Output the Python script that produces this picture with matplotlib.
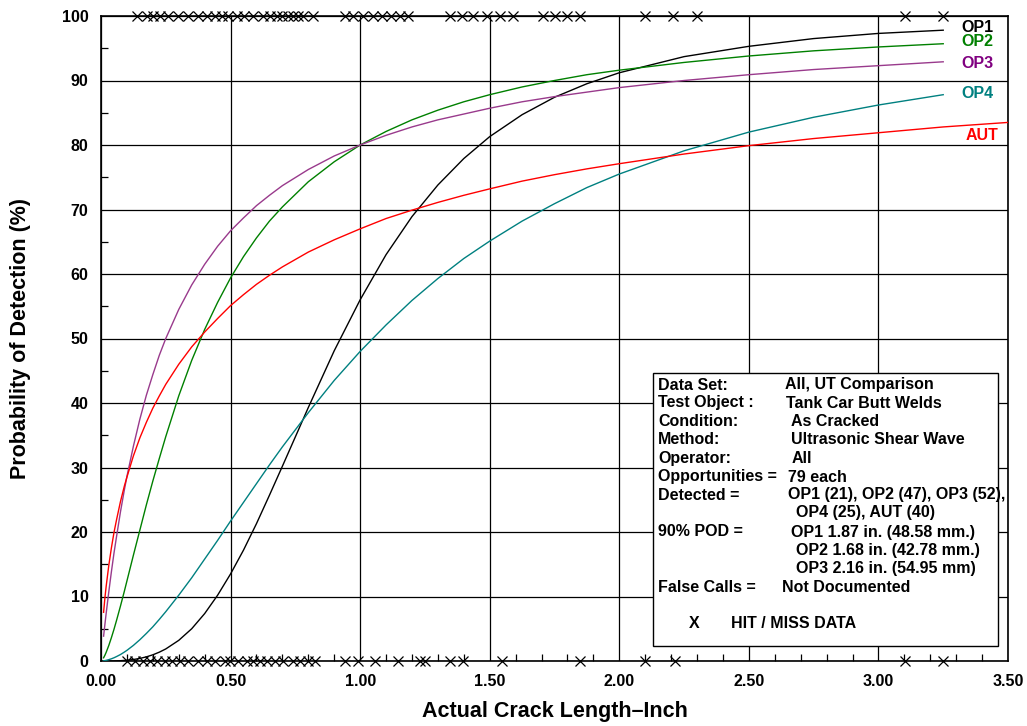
import matplotlib
matplotlib.use("Agg")
import matplotlib.pyplot as plt
from matplotlib.patches import Rectangle
from matplotlib.ticker import MultipleLocator

plt.rcParams["font.family"] = ["Liberation Sans", "DejaVu Sans"]
plt.rcParams["font.weight"] = "bold"

# crack lengths (inch) at which the POD curves are tabulated
crack_len = [0.01, 0.015, 0.02, 0.03, 0.04, 0.05, 0.06, 0.075, 0.09, 0.1, 0.125,
             0.15, 0.175, 0.2, 0.225, 0.25, 0.3, 0.35, 0.4, 0.45, 0.5, 0.55, 0.6,
             0.65, 0.7, 0.8, 0.9, 1.0, 1.1, 1.2, 1.3, 1.4, 1.5, 1.625, 1.75,
             1.875, 2.0, 2.25, 2.5, 2.75, 3.0, 3.25]
crack_len_aut = crack_len + [3.5]

# probability of detection (%)
pod_op1 = [0.0, 0.0, 0.0, 0.0, 0.0, 0.01, 0.03, 0.05, 0.09, 0.12, 0.23, 0.4,
           0.64, 0.96, 1.37, 1.87, 3.2, 5.0, 7.35, 10.2, 13.5, 17.2, 21.3, 25.7,
           30.2, 39.3, 48.1, 56.0, 63.0, 68.9, 73.8, 77.9, 81.3, 84.7, 87.4, 89.5,
           91.2, 93.7, 95.3, 96.5, 97.3, 97.8]
pod_op2 = [0.5, 0.89, 1.35, 2.4, 3.6, 4.9, 6.3, 8.5, 10.8, 12.4, 16.4, 20.3,
           24.2, 27.9, 31.4, 34.8, 41.1, 46.6, 51.4, 55.6, 59.4, 62.7, 65.6, 68.2,
           70.4, 74.3, 77.4, 80.0, 82.1, 83.9, 85.4, 86.7, 87.8, 89.0, 90.0, 90.9,
           91.6, 92.8, 93.8, 94.6, 95.2, 95.7]
pod_op3 = [3.85, 5.65, 7.4, 10.7, 13.8, 16.7, 19.3, 23.1, 26.5, 28.6, 33.3, 37.5,
           41.2, 44.4, 47.4, 50.0, 54.5, 58.3, 61.5, 64.3, 66.7, 68.7, 70.6, 72.2,
           73.7, 76.2, 78.3, 80.0, 81.5, 82.8, 83.9, 84.8, 85.7, 86.7, 87.5, 88.2,
           88.9, 90.0, 90.9, 91.7, 92.3, 92.9]
pod_op4 = [0.03, 0.06, 0.1, 0.21, 0.34, 0.5, 0.69, 1.0, 1.38, 1.65, 2.42, 3.3,
           4.27, 5.3, 6.45, 7.65, 10.2, 12.9, 15.8, 18.7, 21.7, 24.6, 27.5, 30.4,
           33.2, 38.5, 43.5, 48.0, 52.1, 55.9, 59.3, 62.4, 65.1, 68.2, 70.9, 73.4,
           75.5, 79.1, 82.0, 84.3, 86.2, 87.8]
pod_aut = [7.55, 9.75, 11.6, 14.8, 17.5, 19.9, 21.9, 24.7, 27.1, 28.5, 31.8, 34.6,
           37.0, 39.2, 41.1, 42.9, 46.0, 48.7, 51.0, 53.1, 55.1, 56.8, 58.4, 59.8,
           61.1, 63.4, 65.3, 67.0, 68.6, 69.9, 71.1, 72.2, 73.2, 74.4, 75.4, 76.3,
           77.1, 78.6, 79.9, 81.0, 81.9, 82.8, 83.5]

# hit / miss crack lengths (inch)
hit_len = [0.14, 0.176, 0.202, 0.228, 0.26, 0.298, 0.337, 0.376, 0.408, 0.44,
           0.466, 0.49, 0.523, 0.55, 0.588, 0.627, 0.652, 0.678, 0.697, 0.723,
           0.742, 0.761, 0.781, 0.82, 0.942, 0.974, 1.012, 1.05, 1.083, 1.12,
           1.155, 1.185, 1.347, 1.392, 1.437, 1.491, 1.54, 1.591, 1.707, 1.752,
           1.797, 1.849, 2.10, 2.209, 2.299, 3.103, 3.251]
miss_len = [0.099, 0.131, 0.163, 0.189, 0.215, 0.247, 0.273, 0.305, 0.337, 0.376,
            0.408, 0.44, 0.479, 0.498, 0.53, 0.562, 0.588, 0.614, 0.64, 0.672,
            0.704, 0.742, 0.768, 0.80, 0.826, 0.942, 0.99, 1.057, 1.147, 1.231,
            1.25, 1.347, 1.397, 1.546, 1.849, 2.10, 2.215, 3.103, 3.251]

curves = [
    (crack_len, pod_op1, "#000000"),
    (crack_len, pod_op2, "#008000"),
    (crack_len, pod_op3, "#993a8c"),
    (crack_len, pod_op4, "#008080"),
    (crack_len_aut, pod_aut, "#ff0000"),
]

W, H = 1027, 726
fig = plt.figure(figsize=(W / 100, H / 100), dpi=100)
ax = fig.add_axes([101 / W, 1 - 661 / H, 907 / W, 645 / H])
ax.set_xlim(0, 3.5)
ax.set_ylim(0, 100)

ax.xaxis.set_major_locator(MultipleLocator(0.5))
ax.xaxis.set_minor_locator(MultipleLocator(0.1))
ax.yaxis.set_major_locator(MultipleLocator(10))
ax.yaxis.set_minor_locator(MultipleLocator(5))
ax.set_xticklabels([f"{v:.2f}" for v in ax.get_xticks()])
ax.grid(True, which="major", color="black", linewidth=0.9)
ax.tick_params(which="both", direction="in", top=False, right=False,
               labelsize=11.5, width=0.9)
ax.tick_params(which="major", length=0, pad=9)
ax.tick_params(which="minor", length=5)
for s in ax.spines.values():
    s.set_linewidth(1.2)
ax.set_axisbelow(True)

for xs, ys, lc in curves:
    ax.plot(xs, ys, color=lc, linewidth=1.0, zorder=3)

ax.plot(hit_len, [100] * len(hit_len), "x", color="black", markersize=7,
        markeredgewidth=0.9, clip_on=False, zorder=6)
ax.plot(miss_len, [0] * len(miss_len), "x", color="black", markersize=7,
        markeredgewidth=0.9, clip_on=False, zorder=6)

# curve labels at the right end
lbl = [("OP1", 961, 27, "#000000"), ("OP2", 961, 42, "#008000"),
       ("OP3", 961, 63, "#800080"), ("OP4", 961, 94, "#008080"),
       ("AUT", 966, 135, "#ff0000")]
for t, px, py, c in lbl:
    fig.text(px / W, 1 - py / H, t, color=c, fontsize=11.5, fontweight="bold",
             ha="left", va="center")

ax.set_xlabel("Actual Crack Length\u2013Inch", fontsize=15.5, fontweight="bold",
              labelpad=9)
ax.set_ylabel("Probability of Detection (%)", fontsize=15.5, fontweight="bold",
              labelpad=22)

# info box
bx0, bx1, by0, by1 = 653, 998, 373, 646
ax.add_patch(Rectangle(((bx0 - 101) / 259.1, (661 - by1) / 6.45),
                       (bx1 - bx0) / 259.1, (by1 - by0) / 6.45,
                       facecolor="white", edgecolor="black", linewidth=1.0,
                       zorder=5))
rows = [
    ("Data Set:", "All, UT Comparison", 785, 385),
    ("Test Object :", "Tank Car Butt Welds", 786, 403),
    ("Condition:", "As Cracked", 791, 422),
    ("Method:", "Ultrasonic Shear Wave", 791, 440),
    ("Operator:", "All", 792, 458),
    ("Opportunities =", "79 each", 788, 477),
    ("Detected =", "OP1 (21), OP2 (47), OP3 (52),", 788, 495),
    ("", "OP4 (25), AUT (40)", 796, 513),
    ("90% POD =", "OP1 1.87 in. (48.58 mm.)", 791, 532),
    ("", "OP2 1.68 in. (42.78 mm.)", 796, 551),
    ("", "OP3 2.16 in. (54.95 mm)", 796, 569),
    ("False Calls =", "Not Documented", 782, 588),
]
for left, right, rx, ry in rows:
    if left:
        fig.text(658 / W, 1 - ry / H, left, fontsize=11.5, fontweight="bold",
                 va="center", zorder=7)
    fig.text(rx / W, 1 - ry / H, right, fontsize=11.5, fontweight="bold",
             va="center", zorder=7)
fig.text(689 / W, 1 - 624 / H, "X", fontsize=11.5, fontweight="bold", va="center")
fig.text(731 / W, 1 - 624 / H, "HIT / MISS DATA", fontsize=11.5,
         fontweight="bold", va="center")

fig.savefig("out.png", dpi=100, facecolor="white")
